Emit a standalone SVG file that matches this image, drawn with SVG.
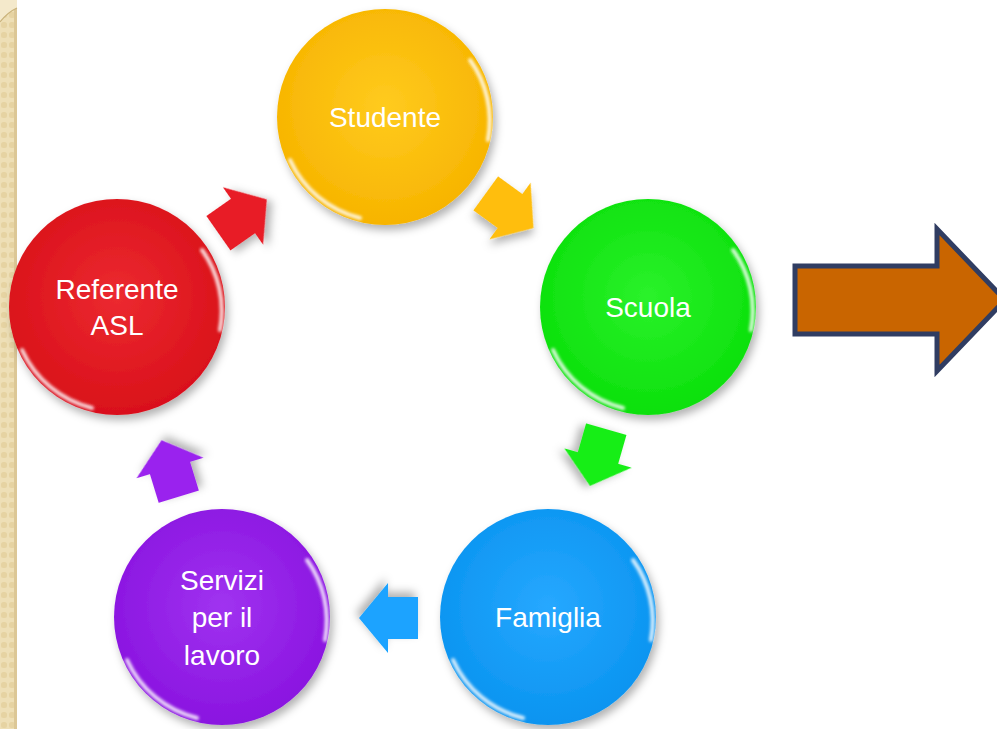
<svg xmlns="http://www.w3.org/2000/svg" width="997" height="729" viewBox="0 0 997 729">
<defs>
<style>
.lbl{font-family:"Gill Sans","Liberation Sans","DejaVu Sans",sans-serif;font-size:28px;fill:#fff;text-anchor:middle}
.rim{fill:none;stroke:#fff;stroke-width:4;stroke-linecap:round;opacity:.85}
.arr{filter:url(#sh)}
</style>
<filter id="sh" x="-30%" y="-30%" width="160%" height="160%">
<feDropShadow dx="3" dy="5" stdDeviation="4" flood-color="#000" flood-opacity="0.3"/>
</filter>
<filter id="blur" x="-20%" y="-20%" width="140%" height="140%"><feGaussianBlur stdDeviation="1.5"/></filter>
<pattern id="chain" width="17" height="10" patternUnits="userSpaceOnUse">
<rect width="17" height="10" fill="#eedfb6"/>
<rect x="1" y="2" width="6" height="6" rx="2.5" fill="#e6d3a2"/>
<rect x="9" y="2" width="6" height="6" rx="2.5" fill="#e6d3a2"/>
</pattern>
<radialGradient id="gy" cx="50%" cy="45%" r="55%"><stop offset="0" stop-color="#FFCB1F"/><stop offset="1" stop-color="#F7B400"/></radialGradient>
<radialGradient id="gg" cx="50%" cy="45%" r="55%"><stop offset="0" stop-color="#2BF22B"/><stop offset="1" stop-color="#0BE00B"/></radialGradient>
<radialGradient id="gb" cx="50%" cy="45%" r="55%"><stop offset="0" stop-color="#27A8FF"/><stop offset="1" stop-color="#0A94F0"/></radialGradient>
<radialGradient id="gp" cx="50%" cy="45%" r="55%"><stop offset="0" stop-color="#A033F0"/><stop offset="1" stop-color="#8A14E0"/></radialGradient>
<radialGradient id="gr" cx="50%" cy="45%" r="55%"><stop offset="0" stop-color="#EC2A30"/><stop offset="1" stop-color="#D9101A"/></radialGradient>
<path id="ba" d="M-30,-21 L0,-21 L0,-35 L29,0 L0,35 L0,21 L-30,21 Z"/>
</defs>
<rect width="997" height="729" fill="#ffffff"/>
<g id="border">
<rect x="0" y="0" width="17" height="729" fill="url(#chain)"/>
<rect x="14" y="0" width="3" height="729" fill="#dcc796"/>
<path d="M0,0 L17,0 L17,8 Q8,12 0,22 Z" fill="#f4e9cb"/>
<path d="M0,22 Q8,12 17,8" fill="none" stroke="#c9b27a" stroke-width="1.2"/>
</g>
<g id="connectors">
<use href="#ba" class="arr" fill="#FFBE10" transform="translate(510,211) rotate(36)"/>
<use href="#ba" class="arr" fill="#16EE16" transform="translate(598,458) rotate(106)"/>
<use href="#ba" class="arr" fill="#1AA3FF" transform="translate(388,618) rotate(180)"/>
<use href="#ba" class="arr" fill="#9A22EE" transform="translate(170,468) rotate(-107)"/>
<use href="#ba" class="arr" fill="#E81E28" transform="translate(243,216) rotate(-35)"/>
</g>
<g id="n-studente">
<circle cx="385" cy="117" r="108" fill="url(#gy)" filter="url(#sh)"/>
<path class="rim" filter="url(#blur)" d="M290,160 A104,104 0 0 0 360,218"/>
<path class="rim" filter="url(#blur)" d="M470,60 A104,104 0 0 1 488,140" opacity=".6"/>
<text class="lbl" x="385" y="127">Studente</text>
</g>
<g id="n-scuola">
<circle cx="648" cy="307" r="108" fill="url(#gg)" filter="url(#sh)"/>
<path class="rim" filter="url(#blur)" d="M553,350 A104,104 0 0 0 623,408"/>
<path class="rim" filter="url(#blur)" d="M733,250 A104,104 0 0 1 751,330" opacity=".6"/>
<text class="lbl" x="648" y="317">Scuola</text>
</g>
<g id="n-famiglia">
<circle cx="548" cy="617" r="108" fill="url(#gb)" filter="url(#sh)"/>
<path class="rim" filter="url(#blur)" d="M453,660 A104,104 0 0 0 523,718"/>
<path class="rim" filter="url(#blur)" d="M633,560 A104,104 0 0 1 651,640" opacity=".6"/>
<text class="lbl" x="548" y="627">Famiglia</text>
</g>
<g id="n-servizi">
<circle cx="222" cy="617" r="108" fill="url(#gp)" filter="url(#sh)"/>
<path class="rim" filter="url(#blur)" d="M127,660 A104,104 0 0 0 197,718"/>
<path class="rim" filter="url(#blur)" d="M307,560 A104,104 0 0 1 325,640" opacity=".6"/>
<text class="lbl" x="222" y="590">Servizi</text>
<text class="lbl" x="222" y="627">per il</text>
<text class="lbl" x="222" y="665">lavoro</text>
</g>
<g id="n-referente">
<circle cx="117" cy="307" r="108" fill="url(#gr)" filter="url(#sh)"/>
<path class="rim" filter="url(#blur)" d="M22,350 A104,104 0 0 0 92,408"/>
<path class="rim" filter="url(#blur)" d="M202,250 A104,104 0 0 1 220,330" opacity=".6"/>
<text class="lbl" x="117" y="299">Referente</text>
<text class="lbl" x="117" y="335">ASL</text>
</g>
<g id="n-bigarrow">
<path d="M795,266 L937,266 L937,229 L1005,300 L937,371 L937,334 L795,334 Z" fill="#C96500" stroke="#303D62" stroke-width="5" stroke-linejoin="miter"/>
</g>
</svg>
